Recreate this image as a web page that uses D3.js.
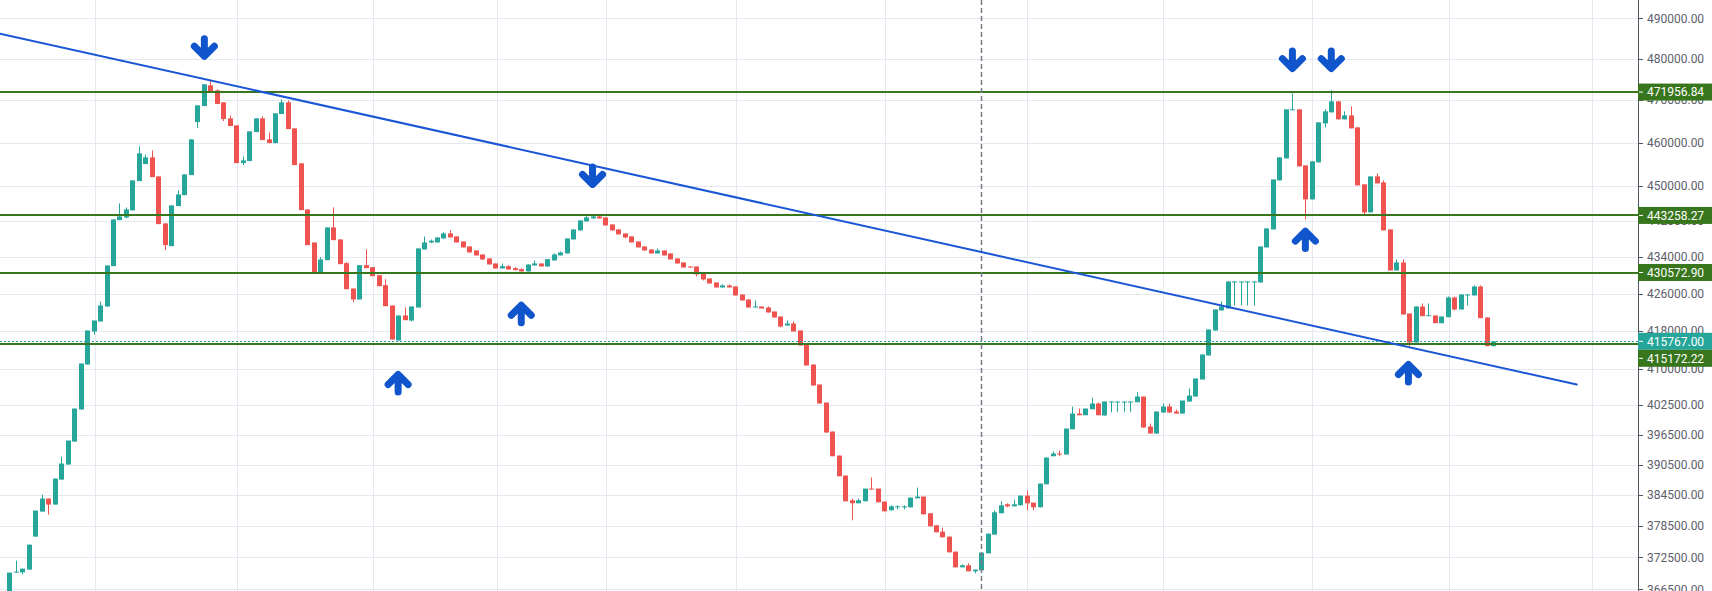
<!DOCTYPE html>
<html><head><meta charset="utf-8">
<script src="https://cdn.jsdelivr.net/npm/d3@7"></script>
<style>html,body{margin:0;padding:0;background:#fff;overflow:hidden}</style>
</head><body><svg id="chart" width="1712" height="591"></svg>
<script>
// ---- DATA ----
const openP = [364800,369660,369680,370190,376460,381280,383810,382640,387530,390510,
395100,401590,410890,417850,419980,423200,431970,442200,442810,444390,
451060,454980,456540,452140,441460,436390,445360,447860,452440,464810,
468610,473570,472370,469500,465690,464030,455210,455680,462450,465690,
460740,459870,466710,469500,463320,455150,444610,437210,430430,433290,
440560,437880,432630,427090,424710,432190,431750,429990,427810,423410,
415940,421270,420190,422980,435650,437210,437210,438100,439220,438550,
437430,436320,435430,434550,433660,432560,431460,431970,431530,431310,
430810,432120,432560,431900,433220,434330,434770,437880,439890,441910,
442580,443030,442810,441230,440110,439220,438550,437430,436320,435650,
434770,435430,434770,433660,432780,431900,431900,430360,429270,428400,
427310,427750,427530,425790,424710,422980,423200,422980,422120,421050,
419130,419550,418060,415090,410890,406730,403020,397120,392300,388330,
383470,382890,383280,385760,385760,383220,381530,382110,382110,382110,
383860,384200,380950,378630,377410,376460,373590,370620,371000,369870,
370050,373270,376840,380950,382690,382300,382500,384390,383020,382110,
386610,392160,392700,392500,397580,400770,400430,401650,402820,400370,
403080,403080,403080,403080,403080,404250,398130,396720,400980,402200,
401180,400770,403230,404250,407770,412780,418060,422340,422770,428400,
428400,428400,428400,428400,436100,440110,451220,456300,467660,467830,
454680,446880,455380,464510,467110,469730,465450,466400,463560,450310,
443940,452140,450760,440110,431020,432780,421690,415520,423200,421200,
421270,419620,420900,425140,422550,425580,425580,427530,420840,414740];
const highP = [369620,371890,370370,374920,381470,384590,383810,387730,392100,395300,
401790,411100,418060,420190,424280,432120,442360,445970,445070,451220,
459100,457230,458170,452140,441460,445520,448930,452600,460740,468780,
473820,474780,472610,469500,466400,464030,456770,462620,465690,466160,
462380,466880,470210,469970,463320,455150,444610,437210,433950,440560,
445070,437880,432850,427090,432190,435650,431750,429990,429120,423410,
421270,422980,423200,435880,438550,437880,438320,439510,439950,438550,
437430,436320,435430,434550,433660,432560,432560,432190,431750,431530,
432340,433220,432560,433510,434770,435210,438100,440110,442130,443100,
443420,443490,442810,441230,440110,439220,438550,437430,436320,435650,
435880,435430,434770,433660,432780,431900,431900,430360,429270,428400,
427960,427960,427530,425790,424710,424490,423200,423200,422120,421050,
420190,419980,418060,415090,410890,406730,403020,397120,392300,388330,
383810,383810,385760,387930,385760,383220,382500,382500,382500,384000,
385960,384200,380950,378630,378180,376460,373590,371190,371380,370190,
373400,377030,381530,383280,382890,383610,384390,385370,383020,386750,
391900,393100,393300,397720,402200,401790,401790,404050,403020,403230,
403230,403230,403230,403230,405140,404250,398740,401180,402820,402820,
401590,403430,405900,407970,412990,418270,422550,424280,428620,428620,
428620,428620,428620,436320,440340,451450,456540,467830,471650,467830,
454680,455610,464740,467830,472370,469730,467350,468540,463560,450310,
452140,452830,451220,440110,433440,433440,421690,423200,423850,423850,
421270,421050,425360,425360,425790,425790,427750,427750,420840,415770];
const lowP = [364500,369620,369250,370190,376460,381280,380690,382640,387530,390510,
395100,401590,410890,417210,419980,423200,431970,442200,442580,444390,
451060,454980,451980,441300,435500,436390,445360,447860,452440,463390,
468610,472200,469090,465050,463870,455210,454750,455680,462450,460570,
459870,459870,466710,463160,454750,444460,436610,430430,430430,433290,
437720,432410,426940,424130,424710,431530,429770,427590,423260,416150,
415940,420260,419980,422980,435650,437050,437210,438100,438320,437210,
436100,434990,434330,433440,432340,431460,431460,431240,431090,430810,
430810,432120,431900,431900,433220,434330,434770,437880,439890,441910,
442580,442580,441010,439890,439000,438100,437210,436100,435430,434770,
434770,434330,433440,432560,431680,431680,429710,428840,428180,427310,
427310,427310,425580,424490,422980,422980,422770,421910,420840,418700,
419130,417850,414880,410680,406520,402820,396920,392160,388190,383280,
379590,382890,383280,385630,383080,381330,381530,381720,381720,382110,
383860,380750,378430,377280,376320,373460,370620,370620,369870,369490,
370050,373270,376840,380950,382110,382300,382500,381530,381530,382110,
386610,392160,392160,392500,397580,400430,400430,401650,400430,400370,
401040,401040,401040,401040,403080,397930,396720,396720,400980,400980,
400770,400770,403230,404250,407770,412780,418060,422340,422770,423410,
423410,423410,423410,428400,436100,440110,451220,456300,467660,454450,
442360,446880,455380,463560,467110,465450,465450,463320,450080,443260,
443940,450540,439890,431020,431020,421480,414670,415520,421120,421200,
419620,419620,420900,422340,422550,423410,425580,420690,414740,414740];
const closeP = [369620,369810,370370,374920,381470,383810,382640,387730,390700,395300,
401790,411100,418060,420190,423410,432120,442360,443030,444610,451220,
457470,456540,451980,441300,436610,445520,448020,452600,460740,468780,
473820,472200,469090,465520,463870,455210,455840,462620,465690,460570,
459870,466880,469500,463160,454750,444460,436610,430430,433440,440560,
437720,432410,426940,424710,432190,431530,429770,427590,423260,416150,
421270,420260,423200,435880,437210,437590,438320,439220,438320,437210,
436100,434990,434330,433440,432340,431460,431970,431240,431090,430810,
432340,432560,431900,433510,434550,434990,438100,440110,442130,442810,
443030,442580,441010,439890,439000,438320,437210,436100,435430,434770,
435430,434330,433440,432560,431680,431680,430150,429050,428180,427310,
427750,427310,425580,424490,422980,423200,422770,421910,420840,418910,
419550,417850,414880,410680,406520,402820,396920,392160,388190,383280,
382890,383470,385760,385630,383080,381330,382300,382300,382300,384000,
384200,380750,378430,377280,376320,373460,370620,371000,369870,370190,
373400,377030,381140,382500,382300,382690,384390,382890,382110,386750,
391900,392700,392500,397720,400770,400430,401790,402820,400430,403230,
403230,403230,403230,403230,404250,397930,396720,401180,402200,400980,
400770,403430,404450,407970,412990,418270,422550,423200,428620,428620,
428620,428620,428620,436320,440340,451450,456540,467830,467830,454450,
446880,455610,464740,467350,469730,465450,466400,463320,450080,443940,
452140,450540,439890,431020,432780,421480,415520,423200,421120,421330,
419620,421050,425140,422550,425790,425790,427530,420690,414740,415767];

const yTicks = [490000,480000,470000,460000,450000,442000,434000,426000,418000,410000,402500,396500,390500,384500,378500,372500,366500];
const timeGridIdx = [13.2,35.2,56.2,75.2,92.1,112.1,135.2,157.1,178.1,201.1,222.1,244.2];
const levels = [471956.84, 443258.27, 430572.90, 415172.22];
const lastPrice = 415767.00;
const markerIdx = 150;
const trendIdx = [-1.435, 241.88];
const trendVal = [486200, 406730];
const arrowIdx = [30.1, 90.0, 198.0, 204.0, 60.0, 79.0, 200.0, 215.9];
const arrowVal = [479640, 449390, 476650, 476650, 409640, 424340, 440630, 411730];
const arrowDir = ['down','down','down','down','up','up','up','up'];

// ---- CHART ----
const W = 1712, H = 591, axisX = 1638;
const svg = d3.select('#chart');
const x = d3.scaleLinear().domain([0, 229]).range([9.3, 1493.3]);
const y = d3.scaleLog().domain([366185, 494582]).range([H, 0]);
const UP = '#26a69a', DN = '#ef5350', GRID = '#e4e9f0', LVL = '#38761d', BLUE = '#1155cc';
const font = 'Roboto, "Trebuchet MS", sans-serif';

const plot = svg.append('g');
// grid
plot.append('g').selectAll('line').data(yTicks).join('line')
  .attr('x1', 0).attr('x2', axisX)
  .attr('y1', d => Math.round(y(d)) + 0.5).attr('y2', d => Math.round(y(d)) + 0.5)
  .attr('stroke', GRID).attr('stroke-width', 1);
plot.append('g').selectAll('line').data(timeGridIdx).join('line')
  .attr('x1', d => Math.round(x(d)) + 0.5).attr('x2', d => Math.round(x(d)) + 0.5)
  .attr('y1', 0).attr('y2', H)
  .attr('stroke', GRID).attr('stroke-width', 1);

// candles
const idx = d3.range(openP.length);
const cg = plot.append('g');
cg.selectAll('line').data(idx).join('line')
  .attr('x1', i => Math.round(x(i)) + 0.5).attr('x2', i => Math.round(x(i)) + 0.5)
  .attr('y1', i => y(highP[i])).attr('y2', i => y(lowP[i]))
  .attr('stroke', i => closeP[i] >= openP[i] ? UP : DN).attr('stroke-width', 1);
cg.selectAll('rect').data(idx).join('rect')
  .attr('x', i => Math.round(x(i)) - 2)
  .attr('width', 5)
  .attr('y', i => y(Math.max(openP[i], closeP[i])))
  .attr('height', i => Math.max(1, y(Math.min(openP[i], closeP[i])) - y(Math.max(openP[i], closeP[i]))))
  .attr('fill', i => closeP[i] >= openP[i] ? UP : DN);

// last price dotted line
plot.append('line')
  .attr('x1', 0).attr('x2', axisX)
  .attr('y1', Math.round(y(lastPrice)) + 0.5).attr('y2', Math.round(y(lastPrice)) + 0.5)
  .attr('stroke', UP).attr('stroke-width', 1).attr('stroke-dasharray', '2,2');

// horizontal levels
plot.append('g').selectAll('line').data(levels).join('line')
  .attr('x1', 0).attr('x2', axisX)
  .attr('y1', d => Math.round(y(d))).attr('y2', d => Math.round(y(d)))
  .attr('stroke', LVL).attr('stroke-width', 2);

// vertical dashed marker
plot.append('line')
  .attr('x1', Math.round(x(markerIdx)) + 0.5).attr('x2', Math.round(x(markerIdx)) + 0.5)
  .attr('y1', 0).attr('y2', H)
  .attr('stroke', '#787b86').attr('stroke-width', 1.5).attr('stroke-dasharray', '5,3');

// trend line
plot.append('line')
  .attr('x1', x(trendIdx[0])).attr('y1', y(trendVal[0]))
  .attr('x2', x(trendIdx[1])).attr('y2', y(trendVal[1]))
  .attr('stroke', '#1a56d6').attr('stroke-width', 2).attr('stroke-linecap', 'round');

// arrows
const ag = plot.append('g');
arrowIdx.forEach((ai, k) => {
  const s = arrowDir[k] === 'down' ? 1 : -1;
  const cx = x(ai), ty = y(arrowVal[k]);
  const g = ag.append('g').attr('transform', `translate(${cx},${ty}) scale(1,${s})`);
  g.append('path')
    .attr('d', 'M0,-5 L0,-21.5 M-10,-14 L0,-4 L10,-14')
    .attr('fill', 'none').attr('stroke', BLUE).attr('stroke-width', 7)
    .attr('stroke-linecap', 'round').attr('stroke-linejoin', 'round');
});

// axis
const ax = svg.append('g');
ax.append('rect').attr('x', axisX).attr('y', 0).attr('width', W - axisX).attr('height', H).attr('fill', '#fff');
ax.append('line').attr('x1', axisX + 0.5).attr('x2', axisX + 0.5).attr('y1', 0).attr('y2', H)
  .attr('stroke', '#50535e').attr('stroke-width', 1);
const fmt = d3.format('.2f');
ax.selectAll('line.t').data(yTicks).join('line').attr('class', 't')
  .attr('x1', axisX + 1).attr('x2', axisX + 5)
  .attr('y1', d => Math.round(y(d)) + 0.5).attr('y2', d => Math.round(y(d)) + 0.5)
  .attr('stroke', '#50535e');
ax.selectAll('text').data(yTicks).join('text')
  .attr('x', axisX + 9).attr('y', d => y(d))
  .attr('dy', '0.35em')
  .attr('font-family', font).attr('font-size', 12).attr('fill', '#5d606b')
  .text(d => fmt(d));

// price labels (with simple collision push-down)
const labels = levels.map(v => ({v, c: LVL})).concat([{v: lastPrice, c: UP}])
  .sort((a, b) => b.v - a.v);
const bh = 17;
let prevBottom = -Infinity;
labels.forEach(l => {
  let top = y(l.v) - bh / 2;
  if (top < prevBottom) top = prevBottom;
  l.top = top; prevBottom = top + bh;
});
const lg = svg.append('g');
labels.forEach(l => {
  lg.append('rect').attr('x', axisX).attr('y', l.top).attr('width', W - axisX).attr('height', bh).attr('fill', l.c);
  lg.append('line').attr('x1', axisX + 1).attr('x2', axisX + 5)
    .attr('y1', l.top + bh / 2).attr('y2', l.top + bh / 2).attr('stroke', '#fff');
  lg.append('text').attr('x', axisX + 9).attr('y', l.top + bh / 2).attr('dy', '0.35em')
    .attr('font-family', font).attr('font-size', 12).attr('fill', '#fff')
    .text(fmt(l.v));
});
</script></body></html>
